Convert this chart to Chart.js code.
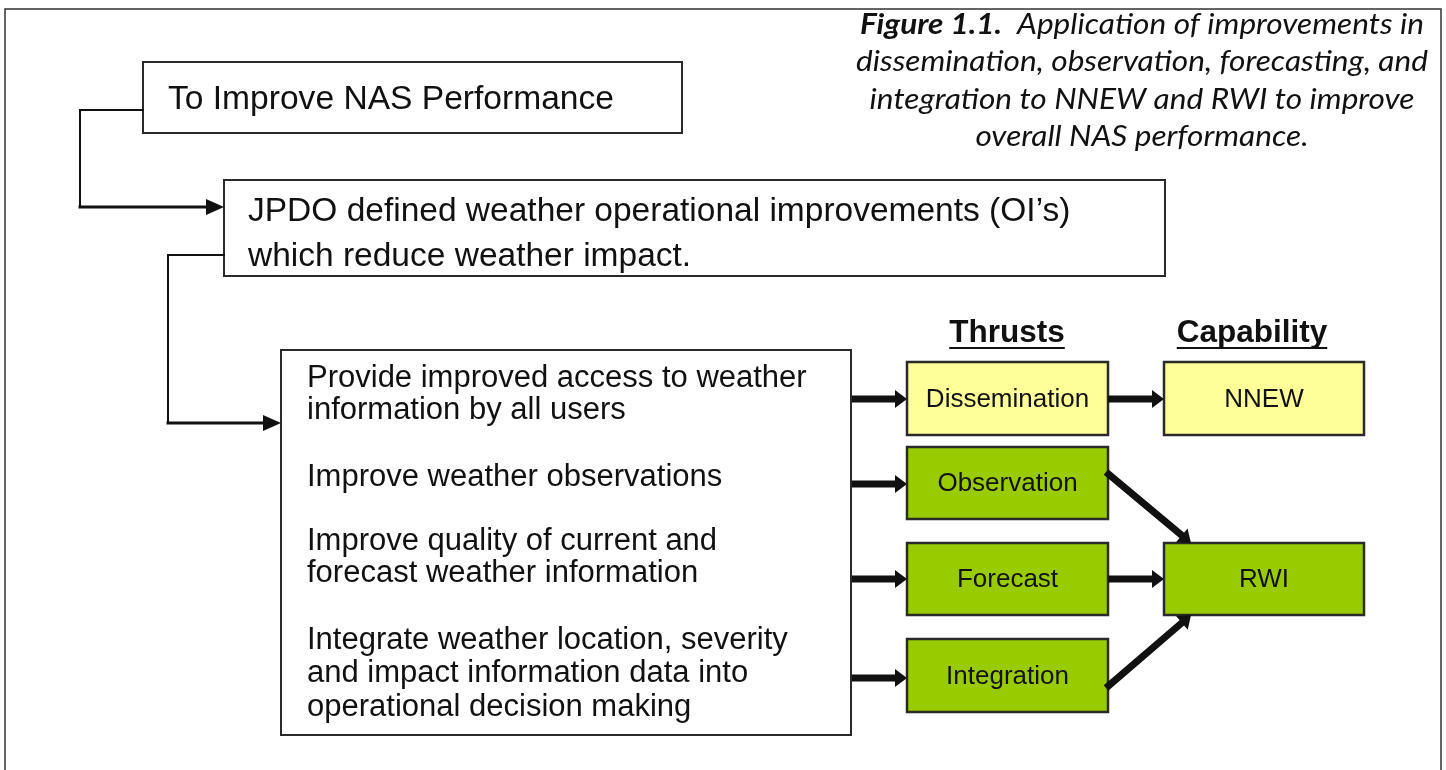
<!DOCTYPE html>
<html>
<head>
<meta charset="utf-8">
<script src="https://cdn.jsdelivr.net/npm/chart.js@4.4.1/dist/chart.umd.min.js"></script>
<style>
  html, body { margin: 0; padding: 0; background: #ffffff; }
  #wrap { width: 1446px; height: 770px; }
</style>
</head>
<body>
<div id="wrap"><canvas id="c" width="1446" height="770"></canvas></div>
<script>
// ---------- content (text) ----------
const captionBold = 'Figure 1.1.';
const captionLines = [
  '  Application of improvements in',
  'dissemination, observation, forecasting, and',
  'integration to NNEW and RWI to improve',
  'overall NAS performance.'
];
const goalText = ['To Improve NAS Performance'];
const oiText = ['JPDO defined weather operational improvements (OI\u2019s)', 'which reduce weather impact.'];
const actionGroups = [
  ['Provide improved access to weather', 'information by all users'],
  ['Improve weather observations'],
  ['Improve quality of current and', 'forecast weather information'],
  ['Integrate weather location, severity', 'and impact information data into', 'operational decision making']
];
const columnHeaders = ['Thrusts', 'Capability'];
const thrusts = ['Dissemination', 'Observation', 'Forecast', 'Integration'];
const capabilities = ['NNEW', 'RWI'];
const thrustCapability = [0, 1, 1, 1];   // which capability each thrust feeds

// ---------- layout (diagram coordinates, mapped through the chart scales) ----------
const frame = { x1: 5, y1: 9, x2: 1441, y2: 780 };
const goalBox = { x1: 143, y1: 62, x2: 682, y2: 133, textX: 168, lineY: [100], size: 33.6 };
const oiBox = { x1: 224, y1: 180, x2: 1165, y2: 276, textX: 248, lineY: [212, 257], size: 33.5 };
const actBox = { x1: 281, y1: 350, x2: 851, y2: 735, textX: 307, size: 31,
  lineY: [[378, 410], [477], [541, 573], [640, 673, 707]] };
const thrustCol = { x1: 907, x2: 1108, rows: [[362, 435], [447, 519], [543, 615], [639, 712]], size: 26 };
const capCol = { x1: 1164, x2: 1364, rows: [[362, 435], [543, 615]] };
const headerPos = { y: 333, underlineY: 348, xs: [1007, 1252], size: 31.5 };
const captionPos = { cx: 1142, ys: [25, 62, 100, 137], size: 29, line2Width: 572 };
const thrustArrowY = [399, 484, 579, 678];
const capLinkEnds = [
  [[1108, 399], [1164, 399]],
  [[1106, 472], [1191, 543]],
  [[1108, 579], [1164, 579]],
  [[1106, 688], [1191, 615]]
];
const YELLOW = '#FFFF99', GREEN = '#99CC00', INK = '#111111', EDGE = '#2a2a2a';

// ---------- datasets built from the layout ----------
function shorten(p, q, by) {
  const dx = q[0] - p[0], dy = q[1] - p[1], L = Math.hypot(dx, dy);
  return [q[0] - dx / L * by, q[1] - dy / L * by];
}
const heads = [];   // [from, to, len, halfWidth]
const datasets = [];
function addLine(pts, width, head, cap) {
  let drawn = pts.slice();
  if (head) {
    const a = pts[pts.length - 2], b = pts[pts.length - 1];
    drawn[drawn.length - 1] = shorten(a, b, head[0] - 1);
    heads.push([a, b, head[0], head[1]]);
  }
  datasets.push({
    type: 'scatter', showLine: true, data: drawn.map(p => ({ x: p[0], y: p[1] })),
    borderColor: INK, borderWidth: width, pointRadius: 0, pointHoverRadius: 0,
    tension: 0, fill: false, clip: false, borderJoinStyle: 'miter', borderCapStyle: cap || 'butt'
  });
}
// elbow connectors (thin run, thicker final arrowed run)
addLine([[goalBox.x1, 110], [80, 110], [80, 207]], 2, null, 'square');
addLine([[80, 207], [oiBox.x1, 207]], 3, [18, 8], 'square');
addLine([[oiBox.x1, 255], [168, 255], [168, 423]], 2, null, 'square');
addLine([[168, 423], [actBox.x1, 423]], 3, [18, 8], 'square');
// action box -> thrusts
thrusts.forEach((t, i) => addLine([[actBox.x2 + 1, thrustArrowY[i]], [thrustCol.x1, thrustArrowY[i]]], 7, [12, 9]));
// thrusts -> capabilities
thrusts.forEach((t, i) => addLine(capLinkEnds[i], 7, [12, 9]));

// ---------- drawing plugin ----------
const diagram = {
  id: 'diagram',
  beforeDatasetsDraw(chart) {
    const { ctx, scales: { x, y } } = chart;
    const X = v => x.getPixelForValue(v), Y = v => y.getPixelForValue(v);
    ctx.save();
    ctx.strokeStyle = '#333'; ctx.lineWidth = 1.5;
    ctx.beginPath();
    ctx.moveTo(X(frame.x1), Y(frame.y2)); ctx.lineTo(X(frame.x1), Y(frame.y1));
    ctx.lineTo(X(frame.x2), Y(frame.y1)); ctx.lineTo(X(frame.x2), Y(frame.y2));
    ctx.stroke();
    const rect = (b, fill, lw) => {
      ctx.fillStyle = fill; ctx.fillRect(X(b.x1), Y(b.y1), X(b.x2) - X(b.x1), Y(b.y2) - Y(b.y1));
      ctx.strokeStyle = EDGE; ctx.lineWidth = lw;
      ctx.strokeRect(X(b.x1), Y(b.y1), X(b.x2) - X(b.x1), Y(b.y2) - Y(b.y1));
    };
    rect(goalBox, '#fff', 2);
    rect(oiBox, '#fff', 2);
    rect(actBox, '#fff', 2);
    thrusts.forEach((t, i) => rect({ x1: thrustCol.x1, x2: thrustCol.x2, y1: thrustCol.rows[i][0], y2: thrustCol.rows[i][1] },
      thrustCapability[i] === 0 ? YELLOW : GREEN, 2.5));
    capabilities.forEach((c, i) => rect({ x1: capCol.x1, x2: capCol.x2, y1: capCol.rows[i][0], y2: capCol.rows[i][1] },
      i === 0 ? YELLOW : GREEN, 2.5));
    ctx.restore();
  },
  afterDatasetsDraw(chart) {
    const { ctx, scales: { x, y } } = chart;
    const X = v => x.getPixelForValue(v), Y = v => y.getPixelForValue(v);
    ctx.save();
    ctx.fillStyle = INK;
    heads.forEach(([a, b, len, half]) => {
      const ax = X(a[0]), ay = Y(a[1]), bx = X(b[0]), by = Y(b[1]);
      const dx = bx - ax, dy = by - ay, L = Math.hypot(dx, dy), ux = dx / L, uy = dy / L;
      const baseX = bx - ux * len, baseY = by - uy * len;
      ctx.beginPath();
      ctx.moveTo(bx, by);
      ctx.lineTo(baseX - uy * half, baseY + ux * half);
      ctx.lineTo(baseX + uy * half, baseY - ux * half);
      ctx.closePath(); ctx.fill();
    });
    ctx.restore();
  },
  afterDraw(chart) {
    const { ctx, scales: { x, y } } = chart;
    const X = v => x.getPixelForValue(v), Y = v => y.getPixelForValue(v);
    ctx.save();
    ctx.fillStyle = INK;
    ctx.textBaseline = 'middle';
    const sans = s => s + 'px "Liberation Sans", Arial, sans-serif';
    ctx.textAlign = 'left';
    ctx.font = sans(goalBox.size);
    goalText.forEach((t, i) => ctx.fillText(t, X(goalBox.textX), Y(goalBox.lineY[i])));
    ctx.font = sans(oiBox.size);
    oiText.forEach((t, i) => ctx.fillText(t, X(oiBox.textX), Y(oiBox.lineY[i])));
    ctx.font = sans(actBox.size);
    actionGroups.forEach((g, gi) => g.forEach((t, li) => ctx.fillText(t, X(actBox.textX), Y(actBox.lineY[gi][li]))));
    ctx.textAlign = 'center';
    ctx.font = sans(thrustCol.size);
    thrusts.forEach((t, i) => ctx.fillText(t, X((thrustCol.x1 + thrustCol.x2) / 2), Y((thrustCol.rows[i][0] + thrustCol.rows[i][1]) / 2 + 1)));
    capabilities.forEach((t, i) => ctx.fillText(t, X((capCol.x1 + capCol.x2) / 2), Y((capCol.rows[i][0] + capCol.rows[i][1]) / 2 + 1)));
    ctx.font = 'bold ' + sans(headerPos.size);
    ctx.strokeStyle = INK; ctx.lineWidth = 2.2;
    columnHeaders.forEach((h, i) => {
      const cx = X(headerPos.xs[i]);
      ctx.fillText(h, cx, Y(headerPos.y));
      const w = ctx.measureText(h).width;
      ctx.beginPath(); ctx.moveTo(cx - w / 2, Y(headerPos.underlineY)); ctx.lineTo(cx + w / 2, Y(headerPos.underlineY)); ctx.stroke();
    });
    const capFont = (b) => (b ? 'italic bold ' : 'italic ') + captionPos.size + 'px Lato, "Open Sans", sans-serif';
    ctx.font = capFont(false);
    const sx = captionPos.line2Width / ctx.measureText(captionLines[1]).width;
    ctx.textAlign = 'left';
    captionLines.forEach((t, i) => {
      let bw = 0;
      if (i === 0) { ctx.font = capFont(true); bw = ctx.measureText(captionBold).width; ctx.font = capFont(false); }
      const w = bw + ctx.measureText(t).width;
      const left = X(captionPos.cx) - (w * sx) / 2;
      ctx.save();
      ctx.translate(left, Y(captionPos.ys[i]));
      ctx.scale(sx, 1);
      if (i === 0) { ctx.font = capFont(true); ctx.fillText(captionBold, 0, 0); ctx.font = capFont(false); }
      ctx.fillText(t, bw, 0);
      ctx.restore();
    });
    ctx.restore();
  }
};

new Chart(document.getElementById('c'), {
  type: 'scatter',
  data: { datasets },
  options: {
    responsive: false, animation: false, events: [],
    layout: { padding: 0 },
    plugins: { legend: { display: false }, tooltip: { enabled: false } },
    scales: {
      x: { type: 'linear', min: 0, max: 1446, display: false },
      y: { type: 'linear', min: 0, max: 770, reverse: true, display: false }
    }
  },
  plugins: [diagram]
});
</script>
</body>
</html>
